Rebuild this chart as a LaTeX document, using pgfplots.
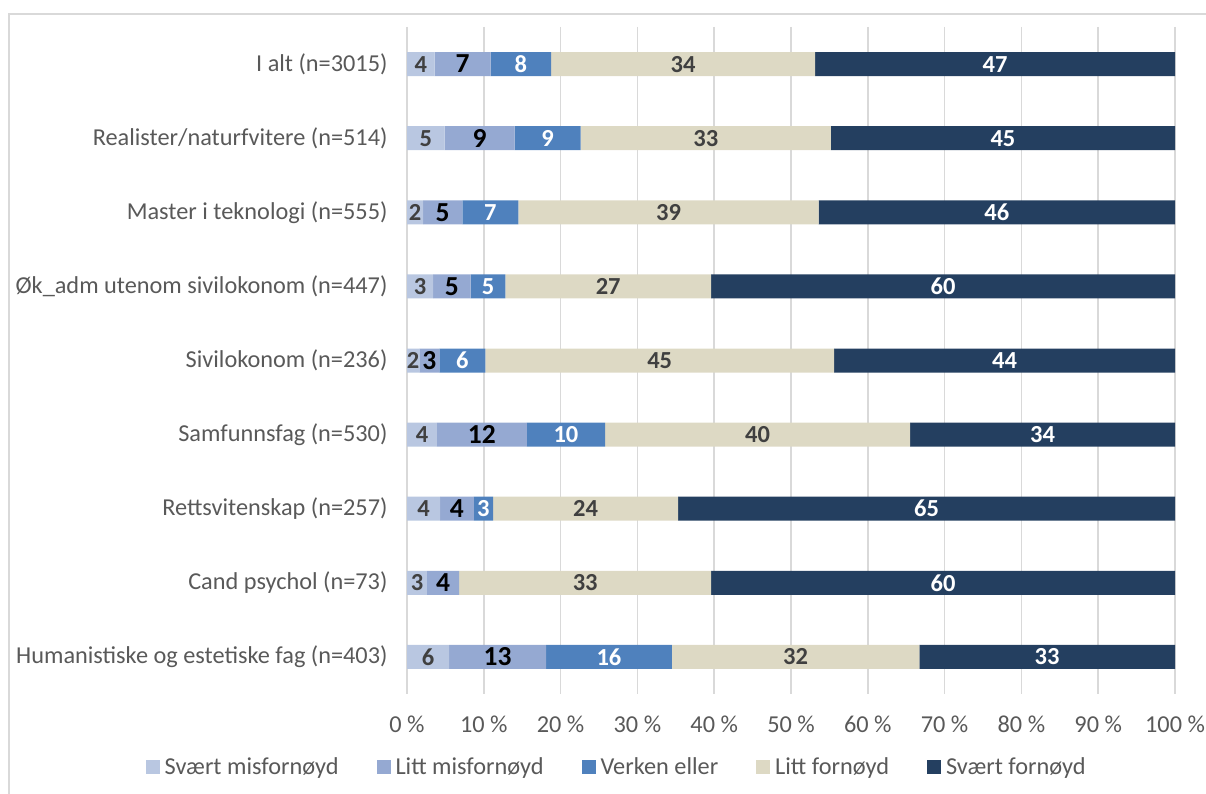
\documentclass[border=0pt]{standalone}
\usepackage{fontspec}
\setmainfont{Carlito}
\usepackage{pgfplots}
\pgfplotsset{compat=1.18}
\definecolor{c1}{HTML}{B9C7E1}
\definecolor{c2}{HTML}{95A9D2}
\definecolor{c3}{HTML}{4F81BD}
\definecolor{c4}{HTML}{DDD9C4}
\definecolor{c5}{HTML}{243F60}
\definecolor{txt}{HTML}{595959}
\definecolor{lab}{HTML}{404040}
\definecolor{grd}{HTML}{D9D9D9}
\pgfplotsset{
  seg/.style n args={3}{
    fill=#1, draw=none,
    nodes near coords, point meta=explicit symbolic,
    nodes near coords style={anchor=center, text=#2, font=\bfseries\fontsize{#3}{#3}\selectfont},
    legend image code/.code={\fill[#1] (0bp,-7bp) rectangle (14bp,7bp);},
  },
}
\begin{document}
\begin{tikzpicture}[x=1bp,y=1bp]
\useasboundingbox (0,0) rectangle (1206,794);
\draw[grd, line width=1.5bp] (9,-5) -- (9,780) -- (1215,780);
\begin{axis}[
  at={(407bp,100bp)}, anchor=south west,
  scale only axis, width=768bp, height=667bp,
  xbar stacked, bar width=24bp,
  xmin=0, xmax=100, ymin=-0.5, ymax=8.5, y dir=reverse,
  axis line style={draw=none}, tick style={draw=none},
  xmajorgrids, grid style={grd, line width=1.5bp},
  xtick={0,10,...,100},
  xticklabels={0 \%,10 \%,20 \%,30 \%,40 \%,50 \%,60 \%,70 \%,80 \%,90 \%,100 \%},
  ytick={0,...,8},
  yticklabels={I alt (n=3015),Realister/naturfvitere (n=514),Master i teknologi (n=555),Øk\_adm utenom sivilokonom (n=447),Sivilokonom (n=236),Samfunnsfag (n=530),Rettsvitenskap (n=257),Cand psychol (n=73),Humanistiske og estetiske fag (n=403)},
  every tick label/.append style={font=\fontsize{24.3bp}{28bp}\selectfont, text=txt},
  yticklabel style={xshift=-16bp},
  xticklabel style={yshift=-18bp},
  legend columns=5,
  legend style={at={(0.273,-0.109)}, anchor=center, draw=none, font=\fontsize{24.3bp}{28bp}\selectfont, text=txt,
    /tikz/every odd column/.append style={column sep=3bp},
    /tikz/every even column/.append style={column sep=36bp}},
  legend cell align=left,
]
\addplot[seg={c1}{lab}{24.5bp}] coordinates {
(3.6,0) [4] (4.9,1) [5] (2.1,2) [2] (3.4,3) [3] (1.6,4) [2] (3.9,5) [4] (4.3,6) [4] (2.6,7) [3] (5.5,8) [6]};
\addplot[seg={c2}{black}{27.5bp}] coordinates {
(7.3,0) [7] (9.1,1) [9] (5.1,2) [5] (4.9,3) [5] (2.6,4) [3] (11.7,5) [12] (4.4,6) [4] (4.2,7) [4] (12.6,8) [13]};
\addplot[seg={c3}{white}{24.5bp}] coordinates {
(7.85,0) [8] (8.6,1) [9] (7.3,2) [7] (4.5,3) [5] (6.0,4) [6] (10.2,5) [10] (2.5,6) [3] (0,7) [{}] (16.4,8) [16]};
\addplot[seg={c4}{lab}{24.5bp}] coordinates {
(34.4,0) [34] (32.6,1) [33] (39.1,2) [39] (26.8,3) [27] (45.4,4) [45] (39.7,5) [40] (24.1,6) [24] (32.8,7) [33] (32.2,8) [32]};
\addplot[seg={c5}{white}{24.5bp}] coordinates {
(46.85,0) [47] (44.8,1) [45] (46.4,2) [46] (60.4,3) [60] (44.4,4) [44] (34.5,5) [34] (64.7,6) [65] (60.4,7) [60] (33.3,8) [33]};
\legend{Svært misfornøyd, Litt misfornøyd, Verken eller, Litt fornøyd, Svært fornøyd}
\end{axis}
\end{tikzpicture}
\end{document}
